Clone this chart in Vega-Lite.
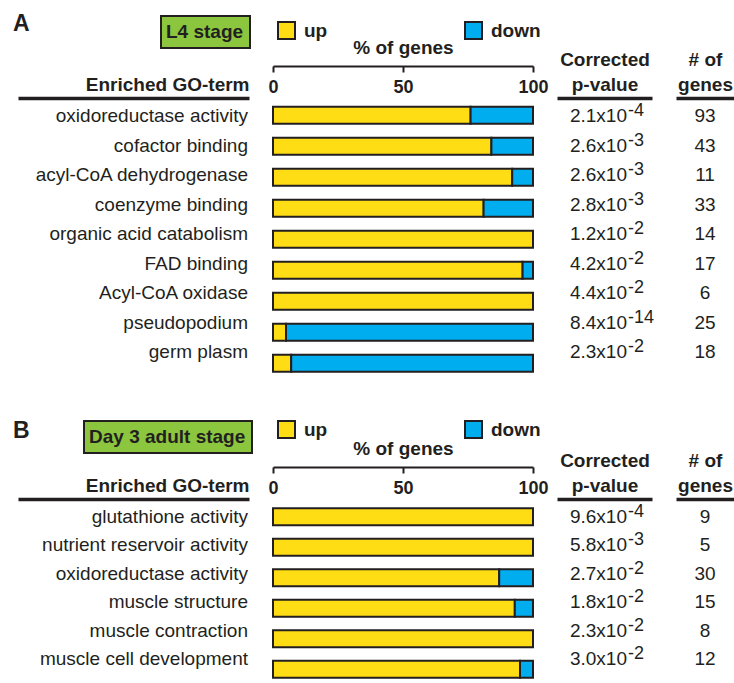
{
  "$schema": "https://vega.github.io/schema/vega-lite/v6.json",
  "background": "white",
  "padding": {"left": 13, "top": 13, "right": 0, "bottom": 0},
  "config": {
    "font": "Liberation Sans",
    "view": {"stroke": null},
    "axis": {"domainColor": "#231f20", "tickColor": "#231f20", "labelColor": "#231f20", "titleColor": "#231f20", "grid": false},
    "text": {"color": "#231f20", "fontSize": 19, "baseline": "alphabetic"},
    "title": {"color": "#231f20"}
  },
  "datasets": {
    "l4": [
      {"term": "oxidoreductase activity", "stage": "L4 stage", "up": 76, "down": 24, "p": "2.1x10", "pexp": "-4", "genes": 93},
      {"term": "cofactor binding", "stage": "L4 stage", "up": 84, "down": 16, "p": "2.6x10", "pexp": "-3", "genes": 43},
      {"term": "acyl-CoA dehydrogenase", "stage": "L4 stage", "up": 92, "down": 8, "p": "2.6x10", "pexp": "-3", "genes": 11},
      {"term": "coenzyme binding", "stage": "L4 stage", "up": 81, "down": 19, "p": "2.8x10", "pexp": "-3", "genes": 33},
      {"term": "organic acid catabolism", "stage": "L4 stage", "up": 100, "down": 0, "p": "1.2x10", "pexp": "-2", "genes": 14},
      {"term": "FAD binding", "stage": "L4 stage", "up": 96, "down": 4, "p": "4.2x10", "pexp": "-2", "genes": 17},
      {"term": "Acyl-CoA oxidase", "stage": "L4 stage", "up": 100, "down": 0, "p": "4.4x10", "pexp": "-2", "genes": 6},
      {"term": "pseudopodium", "stage": "L4 stage", "up": 5, "down": 95, "p": "8.4x10", "pexp": "-14", "genes": 25},
      {"term": "germ plasm", "stage": "L4 stage", "up": 7, "down": 93, "p": "2.3x10", "pexp": "-2", "genes": 18}
    ],
    "adult": [
      {"term": "glutathione activity", "stage": "Day 3 adult stage", "up": 100, "down": 0, "p": "9.6x10", "pexp": "-4", "genes": 9},
      {"term": "nutrient reservoir activity", "stage": "Day 3 adult stage", "up": 100, "down": 0, "p": "5.8x10", "pexp": "-3", "genes": 5},
      {"term": "oxidoreductase activity", "stage": "Day 3 adult stage", "up": 87, "down": 13, "p": "2.7x10", "pexp": "-2", "genes": 30},
      {"term": "muscle structure", "stage": "Day 3 adult stage", "up": 93, "down": 7, "p": "1.8x10", "pexp": "-2", "genes": 15},
      {"term": "muscle contraction", "stage": "Day 3 adult stage", "up": 100, "down": 0, "p": "2.3x10", "pexp": "-2", "genes": 8},
      {"term": "muscle cell development", "stage": "Day 3 adult stage", "up": 95, "down": 5, "p": "3.0x10", "pexp": "-2", "genes": 12}
    ]
  },
  "spacing": 39,
  "resolve": {"scale": {"color": "independent"}, "legend": {"color": "independent"}},
  "vconcat": [
    {
      "bounds": "flush",
      "spacing": 24,
      "resolve": {"scale": {"color": "independent"}, "legend": {"color": "independent"}},
      "hconcat": [
        {
          "data": {"name": "l4"},
          "width": 231,
          "height": {"step": 31},
          "title": {"text": "A", "anchor": "start", "frame": "group", "fontSize": 23, "fontWeight": "bold", "dx": -5, "offset": -21},
          "mark": {"type": "text", "align": "right", "dx": -1, "dy": 9.5},
          "encoding": {
            "y": {"field": "term", "type": "nominal", "sort": null, "axis": null, "scale": {"paddingInner": 0.45, "paddingOuter": 0.28}},
            "x": {"datum": 1, "type": "quantitative", "scale": {"domain": [0, 1]},
                  "axis": {"orient": "top", "labels": false, "ticks": false, "domainWidth": 3.5, "title": "Enriched GO-term", "titleAnchor": "end", "titleFontSize": 19, "titleFontWeight": "bold", "titlePadding": 4}},
            "text": {"field": "term"},
            "color": {"field": "stage", "type": "nominal", "scale": {"range": ["#231f20"]},
                      "legend": {"orient": "none", "legendX": 143, "legendY": -82, "title": null, "fillColor": "#8cc63f", "strokeColor": "#231f20", "padding": 6,
                                 "symbolSize": 1, "symbolOpacity": 0, "symbolStrokeWidth": 0, "labelOffset": -20, "labelLimit": 0,
                                 "labelFontSize": 19, "labelFontWeight": "bold", "labelColor": "#231f20",
                                 "encode": {"legend": {"update": {"strokeWidth": {"value": 2}}}}}}
          }
        },
        {
          "data": {"name": "l4"},
          "width": 260,
          "height": {"step": 31},
          "transform": [{"fold": ["up", "down"], "as": ["direction", "pct"]}],
          "mark": {"type": "bar", "stroke": "#231f20", "strokeWidth": 2},
          "encoding": {
            "y": {"field": "term", "type": "nominal", "sort": null, "axis": null, "scale": {"paddingInner": 0.45, "paddingOuter": 0.28}},
            "x": {"field": "pct", "type": "quantitative", "stack": "zero", "scale": {"domain": [0, 100]},
                  "axis": {"orient": "top", "values": [0, 50, 100], "offset": 32, "tickSize": -6, "tickWidth": 2, "domainWidth": 2,
                           "labelPadding": -6, "labelBaseline": "top", "labelFlush": false, "labelFontSize": 18, "labelFontWeight": "bold",
                           "title": "% of genes", "titleFontSize": 19, "titleFontWeight": "bold", "titleY": -19, "titleBaseline": "middle"}},
            "color": {"field": "direction", "type": "nominal", "scale": {"domain": ["up", "down"], "range": ["#ffdd15", "#00aeef"]},
                      "legend": {"orient": "none", "legendX": 4, "legendY": -77, "direction": "horizontal", "title": null, "columnPadding": 133,
                                 "symbolType": "square", "symbolSize": 289, "symbolStrokeColor": "#231f20", "symbolStrokeWidth": 2,
                                 "labelOffset": 8, "labelFontSize": 19, "labelFontWeight": "bold", "labelColor": "#231f20"}},
            "order": {"field": "direction", "sort": "descending"}
          }
        },
        {
          "data": {"name": "l4"},
          "width": 95,
          "height": {"step": 31},
          "encoding": {
            "y": {"field": "term", "type": "nominal", "sort": null, "axis": null, "scale": {"paddingInner": 0.45, "paddingOuter": 0.28}},
            "x": {"datum": 0.5, "type": "quantitative", "scale": {"domain": [0, 1]},
                  "axis": {"orient": "top", "labels": false, "ticks": false, "domainWidth": 3.5, "title": ["Corrected", "p-value"], "titleFontSize": 19, "titleFontWeight": "bold", "titlePadding": 4, "titleLineHeight": 25}}
          },
          "layer": [
            {"mark": {"type": "text", "align": "right", "dx": 22.5, "dy": 9.5}, "encoding": {"text": {"field": "p"}}},
            {"mark": {"type": "text", "align": "left", "dx": 23.5, "dy": 3.5, "fontSize": 18}, "encoding": {"text": {"field": "pexp"}}}
          ]
        },
        {
          "data": {"name": "l4"},
          "width": 58,
          "height": {"step": 31},
          "mark": {"type": "text", "align": "center", "dy": 9.5},
          "encoding": {
            "y": {"field": "term", "type": "nominal", "sort": null, "axis": null, "scale": {"paddingInner": 0.45, "paddingOuter": 0.28}},
            "x": {"datum": 0.5, "type": "quantitative", "scale": {"domain": [0, 1]},
                  "axis": {"orient": "top", "labels": false, "ticks": false, "domainWidth": 3.5, "title": ["# of", "genes"], "titleFontSize": 19, "titleFontWeight": "bold", "titlePadding": 4, "titleLineHeight": 25}},
            "text": {"field": "genes"}
          }
        }
      ]
    },
    {
      "bounds": "flush",
      "spacing": 24,
      "resolve": {"scale": {"color": "independent"}, "legend": {"color": "independent"}},
      "hconcat": [
        {
          "data": {"name": "adult"},
          "width": 231,
          "height": {"step": 30.5},
          "title": {"text": "B", "anchor": "start", "frame": "group", "fontSize": 23, "fontWeight": "bold", "dx": -5, "offset": -23},
          "mark": {"type": "text", "align": "right", "dx": -1, "dy": 9.5},
          "encoding": {
            "y": {"field": "term", "type": "nominal", "sort": null, "axis": null, "scale": {"paddingInner": 0.44, "paddingOuter": 0.3}},
            "x": {"datum": 1, "type": "quantitative", "scale": {"domain": [0, 1]},
                  "axis": {"orient": "top", "labels": false, "ticks": false, "domainWidth": 3.5, "title": "Enriched GO-term", "titleAnchor": "end", "titleFontSize": 19, "titleFontWeight": "bold", "titlePadding": 4}},
            "text": {"field": "term"},
            "color": {"field": "stage", "type": "nominal", "scale": {"range": ["#231f20"]},
                      "legend": {"orient": "none", "legendX": 66, "legendY": -78, "title": null, "fillColor": "#8cc63f", "strokeColor": "#231f20", "padding": 6,
                                 "symbolSize": 1, "symbolOpacity": 0, "symbolStrokeWidth": 0, "labelOffset": -20, "labelLimit": 0,
                                 "labelFontSize": 19, "labelFontWeight": "bold", "labelColor": "#231f20",
                                 "encode": {"legend": {"update": {"strokeWidth": {"value": 2}}}}}}
          }
        },
        {
          "data": {"name": "adult"},
          "width": 260,
          "height": {"step": 30.5},
          "transform": [{"fold": ["up", "down"], "as": ["direction", "pct"]}],
          "mark": {"type": "bar", "stroke": "#231f20", "strokeWidth": 2},
          "encoding": {
            "y": {"field": "term", "type": "nominal", "sort": null, "axis": null, "scale": {"paddingInner": 0.44, "paddingOuter": 0.3}},
            "x": {"field": "pct", "type": "quantitative", "stack": "zero", "scale": {"domain": [0, 100]},
                  "axis": {"orient": "top", "values": [0, 50, 100], "offset": 32, "tickSize": -6, "tickWidth": 2, "domainWidth": 2,
                           "labelPadding": -6, "labelBaseline": "top", "labelFlush": false, "labelFontSize": 18, "labelFontWeight": "bold",
                           "title": "% of genes", "titleFontSize": 19, "titleFontWeight": "bold", "titleY": -19, "titleBaseline": "middle"}},
            "color": {"field": "direction", "type": "nominal", "scale": {"domain": ["up", "down"], "range": ["#ffdd15", "#00aeef"]},
                      "legend": {"orient": "none", "legendX": 4, "legendY": -79, "direction": "horizontal", "title": null, "columnPadding": 133,
                                 "symbolType": "square", "symbolSize": 289, "symbolStrokeColor": "#231f20", "symbolStrokeWidth": 2,
                                 "labelOffset": 8, "labelFontSize": 19, "labelFontWeight": "bold", "labelColor": "#231f20"}},
            "order": {"field": "direction", "sort": "descending"}
          }
        },
        {
          "data": {"name": "adult"},
          "width": 95,
          "height": {"step": 30.5},
          "encoding": {
            "y": {"field": "term", "type": "nominal", "sort": null, "axis": null, "scale": {"paddingInner": 0.44, "paddingOuter": 0.3}},
            "x": {"datum": 0.5, "type": "quantitative", "scale": {"domain": [0, 1]},
                  "axis": {"orient": "top", "labels": false, "ticks": false, "domainWidth": 3.5, "title": ["Corrected", "p-value"], "titleFontSize": 19, "titleFontWeight": "bold", "titlePadding": 4, "titleLineHeight": 25}}
          },
          "layer": [
            {"mark": {"type": "text", "align": "right", "dx": 22.5, "dy": 9.5}, "encoding": {"text": {"field": "p"}}},
            {"mark": {"type": "text", "align": "left", "dx": 23.5, "dy": 3.5, "fontSize": 18}, "encoding": {"text": {"field": "pexp"}}}
          ]
        },
        {
          "data": {"name": "adult"},
          "width": 58,
          "height": {"step": 30.5},
          "mark": {"type": "text", "align": "center", "dy": 9.5},
          "encoding": {
            "y": {"field": "term", "type": "nominal", "sort": null, "axis": null, "scale": {"paddingInner": 0.44, "paddingOuter": 0.3}},
            "x": {"datum": 0.5, "type": "quantitative", "scale": {"domain": [0, 1]},
                  "axis": {"orient": "top", "labels": false, "ticks": false, "domainWidth": 3.5, "title": ["# of", "genes"], "titleFontSize": 19, "titleFontWeight": "bold", "titlePadding": 4, "titleLineHeight": 25}},
            "text": {"field": "genes"}
          }
        }
      ]
    }
  ]
}
